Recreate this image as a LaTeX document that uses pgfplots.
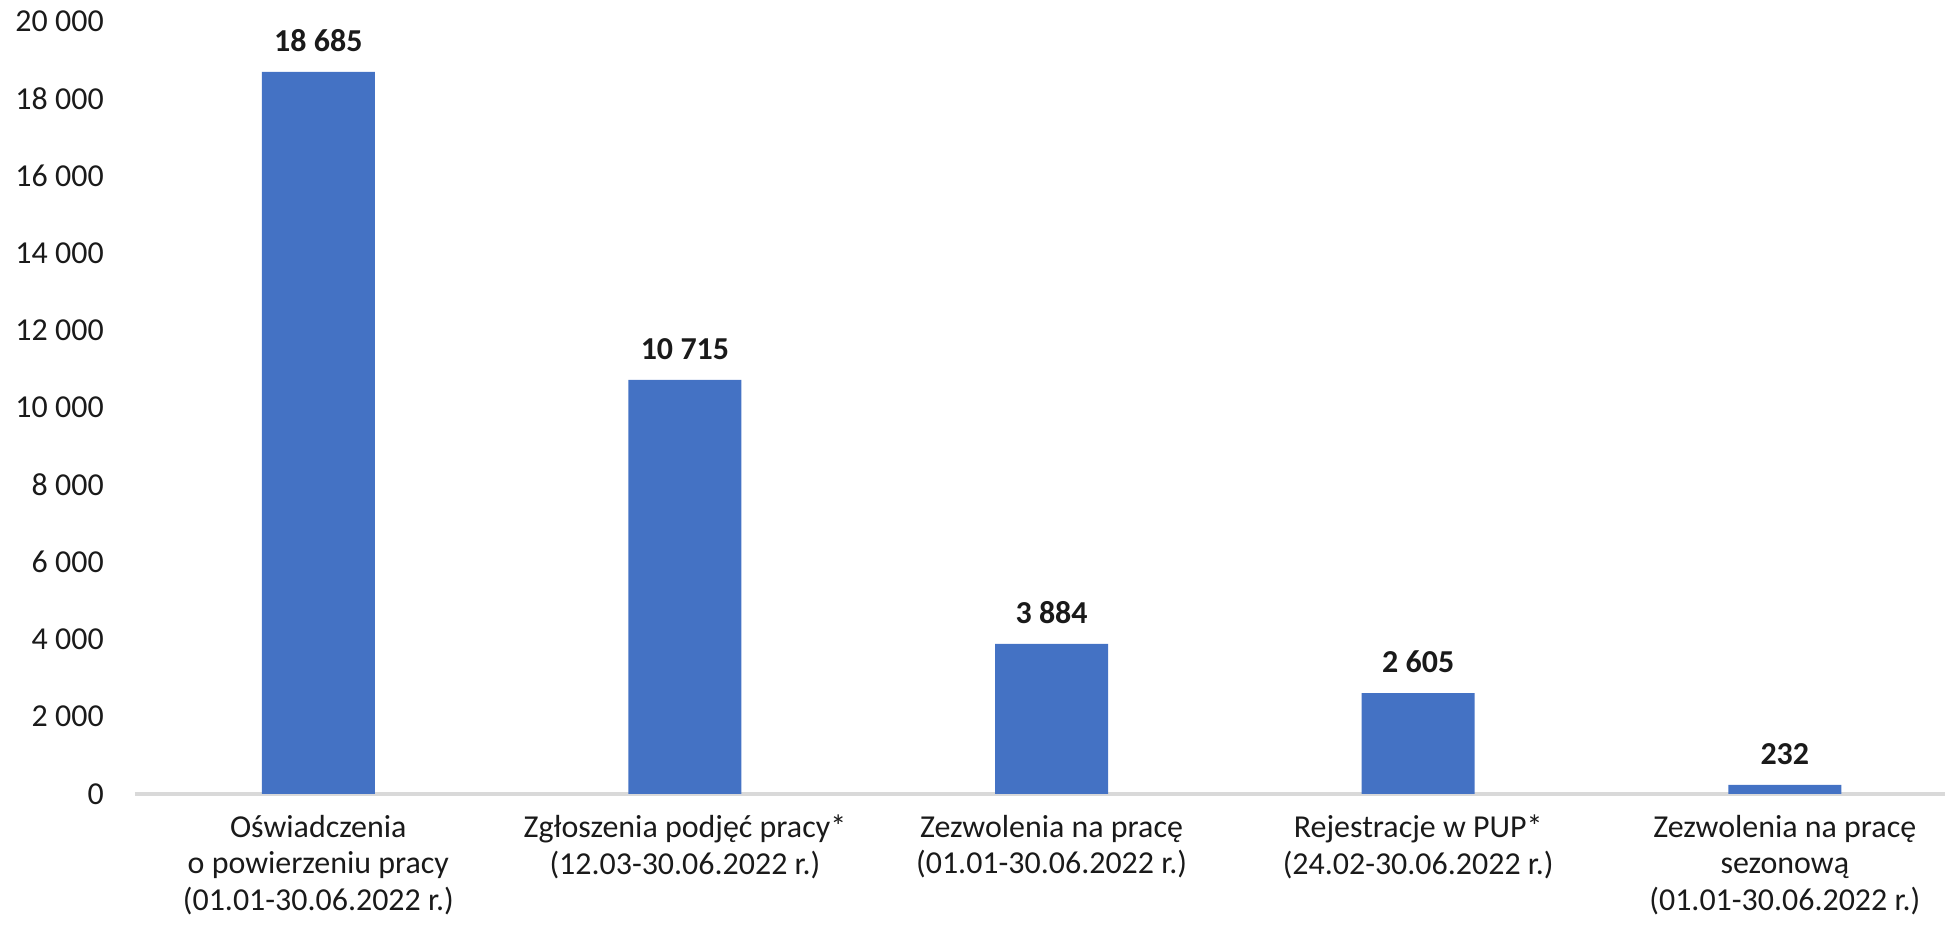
\documentclass[border=0pt]{standalone}
\usepackage{fontspec}
\setmainfont{Carlito}
\usepackage{pgfplots}
\pgfplotsset{compat=1.18}
\definecolor{barblue}{HTML}{4472C4}
\definecolor{axisgray}{HTML}{D9D9D9}
\definecolor{txt}{HTML}{1A1A1A}

\begin{document}
\begin{tikzpicture}
\begin{axis}[
  scale only axis,
  width=651.6pt, height=278.2pt,
  xmin=-0.5, xmax=4.437,
  ymin=0, ymax=20000,
  ytick={0,2000,...,20000},
  xtick={0,...,4},
  xticklabels={
    {Oświadczenia\\o powierzeniu pracy\\(01.01-30.06.2022 r.)},
    {Zgłoszenia podjęć pracy*\\(12.03-30.06.2022 r.)},
    {Zezwolenia na pracę\\(01.01-30.06.2022 r.)},
    {Rejestracje w PUP*\\(24.02-30.06.2022 r.)},
    {Zezwolenia na pracę\\sezonową\\(01.01-30.06.2022 r.)}},
  scaled y ticks=false,
  axis x line*=bottom, axis y line*=left,
  y axis line style={draw=none},
  x axis line style={draw=axisgray, line width=1.2pt},
  major tick length=0pt,
  tick style={draw=none},
  /pgf/number format/assume math mode=true,
  /pgf/number format/1000 sep={\hspace{0.23em}},
  ticklabel style={font=\fontsize{11.5}{13.3}\selectfont, text=txt},
  yticklabel style={xshift=-7.7pt},
  xticklabel style={align=center, yshift=-4pt},
  clip=false,
]
\addplot[ybar, bar width=40.7pt, fill=barblue, draw=none,
  nodes near coords,
  nodes near coords style={font=\fontsize{11.5}{13.3}\selectfont\bfseries, text=txt, yshift=3.8pt}]
  coordinates {(0,18685) (1,10715) (2,3884) (3,2605) (4,232)};
\end{axis}
\pgfresetboundingbox
\path ([shift={(-48.6pt,-49pt)}]current axis.south west) rectangle ([shift={(0pt,7.6pt)}]current axis.north east);
\end{tikzpicture}
\end{document}
